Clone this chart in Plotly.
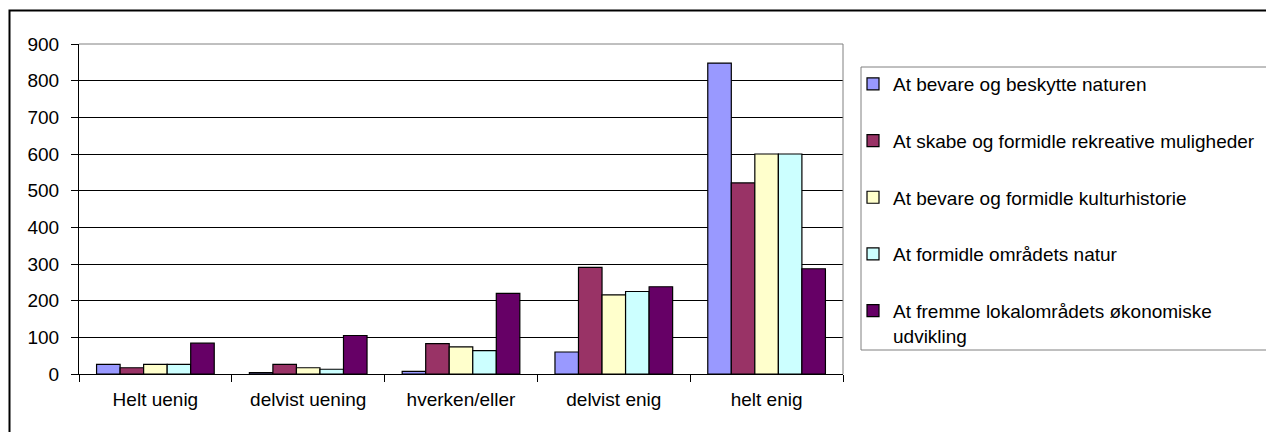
import plotly.graph_objects as go

# Survey answers (categories) and the count of replies per purpose
categories = ["Helt uenig", "delvist uening", "hverken/eller", "delvist enig", "helt enig"]

bevare_naturen = [26, 4, 7, 60, 848]
rekreative = [17, 26, 83, 291, 521]
kulturhistorie = [26, 17, 74, 216, 600]
omraadets_natur = [26, 13, 64, 225, 600]
oekonomisk_udvikling = [84, 105, 220, 238, 287]

series_names = [
    "At bevare og beskytte naturen",
    "At skabe og formidle rekreative muligheder",
    "At bevare og formidle kulturhistorie",
    "At formidle områdets natur",
    "At fremme lokalområdets økonomiske<br>udvikling",
]
series_values = [bevare_naturen, rekreative, kulturhistorie, omraadets_natur, oekonomisk_udvikling]
series_colors = ["#9999FF", "#993366", "#FFFFCC", "#CCFFFF", "#660066"]

y_ticks = list(range(0, 1000, 100))

FONT = "Liberation Sans, Arial, sans-serif"
FS = 19

W, H = 1266, 432
L, R, T, B = 79, 843, 44, 374  # plot-area pixel box


def px_x(x):
    return (x - L) / (R - L)


def px_y(y):
    return (B - y) / (B - T)


fig = go.Figure()
for i, (name, vals, col) in enumerate(zip(series_names, series_values, series_colors)):
    fig.add_trace(go.Bar(
        x=categories,
        y=vals,
        name=name,
        legendgroup=f"g{i}",
        marker=dict(color=col, line=dict(color="black", width=1.2)),
    ))

shapes = [
    # outer chart frame
    dict(type="rect", xref="paper", yref="paper",
         x0=px_x(9.5), x1=px_x(1290), y0=px_y(460), y1=px_y(10.5),
         line=dict(color="black", width=2), fillcolor="rgba(0,0,0,0)", layer="below"),
    # plot-area border (top and right edges)
    dict(type="line", xref="paper", yref="paper", x0=0, x1=1, y0=1, y1=1,
         line=dict(color="#808080", width=1), layer="above"),
    dict(type="line", xref="paper", yref="paper", x0=1, x1=1, y0=0, y1=1,
         line=dict(color="#808080", width=1), layer="above"),
    # legend frame
    dict(type="rect", xref="paper", yref="paper",
         x0=px_x(861), x1=px_x(1290), y0=px_y(350), y1=px_y(67),
         line=dict(color="#808080", width=1), fillcolor="rgba(0,0,0,0)", layer="below"),
]

fig.update_layout(
    width=W, height=H, autosize=False,
    margin=dict(l=L, r=W - R, t=T, b=H - B, pad=0, autoexpand=False),
    paper_bgcolor="white", plot_bgcolor="white",
    font=dict(family=FONT, size=FS, color="black"),
    barmode="group", bargap=0.23, bargroupgap=0,
    showlegend=True,
    legend=dict(
        x=px_x(853), y=px_y(65), xanchor="left", yanchor="top",
        bgcolor="rgba(0,0,0,0)", borderwidth=0,
        font=dict(family=FONT, size=FS, color="black"),
        traceorder="grouped", tracegroupgap=29, valign="top",
    ),
    shapes=shapes,
)

fig.update_xaxes(
    type="category", showgrid=False, zeroline=False,
    showline=True, linecolor="black", linewidth=1,
    ticks="outside", tickson="boundaries", ticklen=7, tickcolor="black", tickwidth=1,
    tickfont=dict(family=FONT, size=FS, color="black"),
    ticklabelstandoff=8,
)
fig.update_yaxes(
    range=[0, 900], tickvals=y_ticks, ticktext=[str(v) for v in y_ticks],
    showgrid=True, gridcolor="black", gridwidth=1, zeroline=False,
    showline=True, linecolor="black", linewidth=1,
    ticks="outside", ticklen=7, tickcolor="black", tickwidth=1,
    tickfont=dict(family=FONT, size=FS, color="black"),
    ticklabelstandoff=8,
)

fig.write_html("out.html")
